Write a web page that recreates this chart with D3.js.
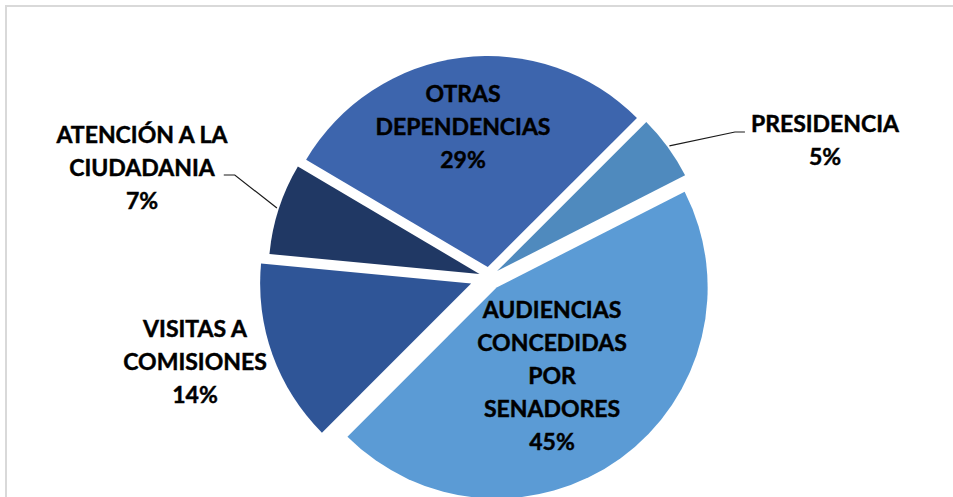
<!DOCTYPE html>
<html>
<head>
<meta charset="utf-8">
<script src="https://cdn.jsdelivr.net/npm/d3@7"></script>
<style>
  html, body { margin: 0; padding: 0; background: #ffffff; }
  svg { display: block; }
</style>
</head>
<body>
<svg id="chart" width="953" height="497"></svg>
<script>
// ---- data ----
const categories = ["PRESIDENCIA", "AUDIENCIAS CONCEDIDAS POR SENADORES", "VISITAS A COMISIONES", "ATENCIÓN A LA CIUDADANIA", "OTRAS DEPENDENCIAS"];
const values = [5, 45, 14, 7, 29];
const labelLines = [
  ["PRESIDENCIA"],
  ["AUDIENCIAS", "CONCEDIDAS", "POR", "SENADORES"],
  ["VISITAS A", "COMISIONES"],
  ["ATENCIÓN A LA", "CIUDADANIA"],
  ["OTRAS", "DEPENDENCIAS"]
];

// ---- styles / layout ----
const colors = ["#4f8abe", "#5b9bd5", "#2f5597", "#203864", "#3d65ad"];
const explode = [10, 13, 19, 10, 10];
// label anchor (centre x, first baseline) relative to pie centre
const labelOffset = [[336, -145], [63, 41], [-294, 60], [-347, -134], [-26, -175]];
const leaderSide = ["left", null, null, "right", null];
const width = 953, height = 497;
const cx = 489, cy = 277, radius = 211;
const startDeg = 45;
const lineHeight = 33;

const svg = d3.select("#chart");

svg.append("rect")
  .attr("x", 6).attr("y", 6)
  .attr("width", 980).attr("height", 520)
  .attr("fill", "#ffffff")
  .attr("stroke", "#d9d9d9")
  .attr("stroke-width", 2);

const total = d3.sum(values);
const fmt = d3.format(".0%");
const start = startDeg * Math.PI / 180;

const pie = d3.pie().sort(null).value(d => d)
  .startAngle(start).endAngle(start + 2 * Math.PI);
const arcs = pie(values);
const arc = d3.arc().innerRadius(0).outerRadius(radius);

const g = svg.append("g").attr("transform", `translate(${cx},${cy})`);

const dirOf = a => [Math.sin(a), -Math.cos(a)];

arcs.forEach((d, i) => {
  const mid = (d.startAngle + d.endAngle) / 2;
  const [ux, uy] = dirOf(mid);
  g.append("path")
    .attr("d", arc(d))
    .attr("fill", colors[i])
    .attr("transform", `translate(${ux * explode[i]},${uy * explode[i]})`);
});

const fontFamily = "Lato, 'Open Sans', 'Liberation Sans', sans-serif";

arcs.forEach((d, i) => {
  const [ox, oy] = labelOffset[i];
  const lines = labelLines[i].concat([fmt(values[i] / total)]);
  const t = g.append("text")
    .attr("text-anchor", "middle")
    .attr("font-family", fontFamily)
    .attr("font-weight", "bold")
    .attr("font-size", 23)
    .attr("fill", "#000000")
    .attr("stroke", "#000000")
    .attr("stroke-width", 0.45);
  const spans = lines.map((ln, k) =>
    t.append("tspan").attr("x", ox).attr("y", oy + k * lineHeight).text(ln));

  if (leaderSide[i]) {
    const mid = (d.startAngle + d.endAngle) / 2;
    const [ux, uy] = dirOf(mid);
    const sx = ux * (explode[i] + radius + 2);
    const sy = uy * (explode[i] + radius + 2);
    let ex, ey, bx;
    if (leaderSide[i] === "left") {
      const bb = spans[0].node().getBBox();
      ex = bb.x - 6; ey = oy;
      bx = ex - 10;
    } else {
      const bb = spans[lines.length - 2].node().getBBox();
      ex = bb.x + bb.width + 8; ey = oy + (lines.length - 2) * lineHeight - 1;
      bx = ex + 11;
    }
    g.append("path")
      .attr("d", d3.line()([[sx, sy], [bx, ey], [ex, ey]]))
      .attr("fill", "none")
      .attr("stroke", "#1a1a1a")
      .attr("stroke-width", 1.2);
  }
});
</script>
</body>
</html>
